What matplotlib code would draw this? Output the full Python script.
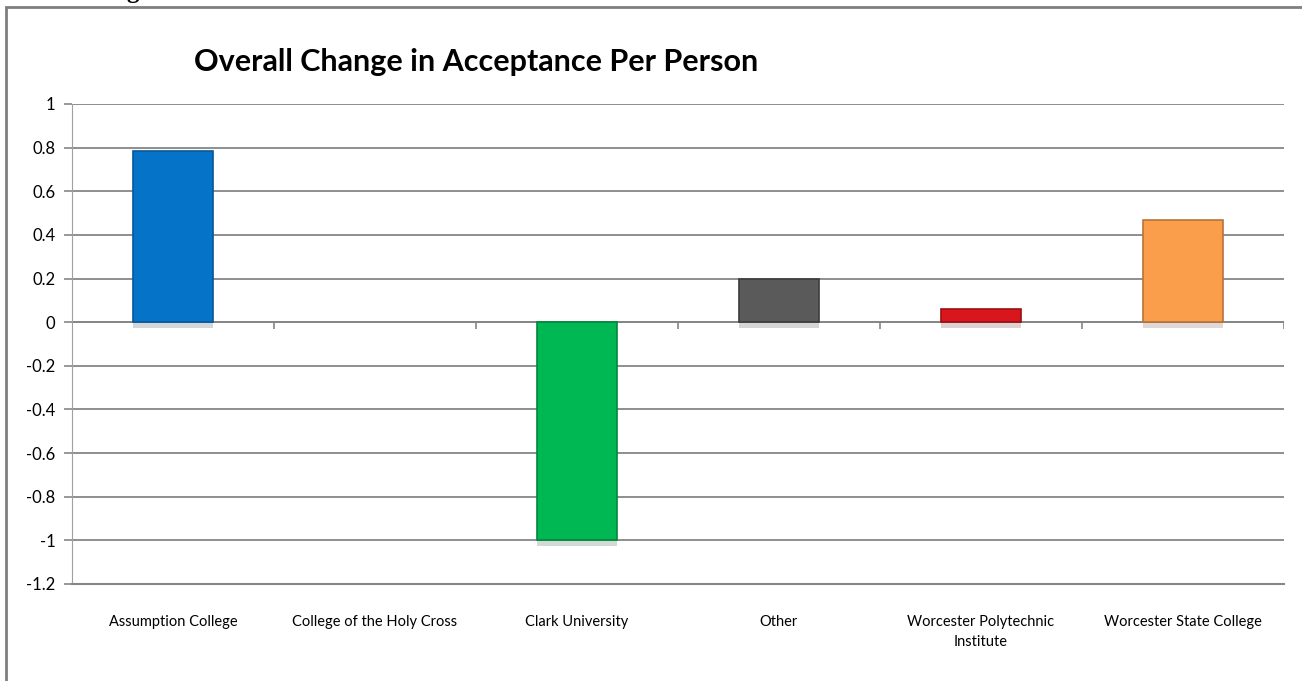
import matplotlib
matplotlib.use("Agg")
import matplotlib.pyplot as plt
from matplotlib.patches import Rectangle
import matplotlib.patheffects as pe
import numpy as np

categories = ["Assumption College", "College of the Holy Cross", "Clark University",
              "Other", "Worcester Polytechnic\nInstitute", "Worcester State College"]
values = [0.786, 0.0, -1.0, 0.2, 0.06, 0.47]
colors = ["#0574C8", "#00B050", "#00B853", "#5A5A5A", "#D8161C", "#FB9E4C"]
edges = ["#05589A", "#00B050", "#00873C", "#3C3C3C", "#9C0E12", "#B8733A"]
yticks = [-1.2, -1, -0.8, -0.6, -0.4, -0.2, 0, 0.2, 0.4, 0.6, 0.8, 1]
title = "Overall Change in Acceptance Per Person"

plt.rcParams['font.family'] = ['Lato', 'DejaVu Sans']

fig = plt.figure(figsize=(13.02, 6.81), dpi=100)
ax = fig.add_axes([72/1302, 1 - 584/681, (1284 - 72)/1302, (584 - 104)/681])

x = np.arange(len(categories))
for i in range(len(categories)):
    if values[i] == 0:
        continue
    b = ax.bar(x[i], values[i], width=0.4, color=colors[i], edgecolor=edges[i],
               linewidth=1.2, zorder=3)
    b[0].set_path_effects([pe.SimplePatchShadow(offset=(0, -4), alpha=0.18),
                           pe.Normal()])

ax.set_xlim(-0.5, len(categories) - 0.5)
ax.set_ylim(-1.2, 1)
ax.set_yticks(yticks)
ax.set_yticklabels(["%g" % v for v in yticks], fontsize=12)
ax.yaxis.grid(True, color="#868686", linewidth=1.3, zorder=0)
ax.set_axisbelow(True)

ax.set_xticks(x)
ax.set_xticklabels(categories, fontsize=10.5, linespacing=1.6, va="top")
ax.tick_params(axis="x", length=0, pad=22)
ax.tick_params(axis="y", length=6, color="#868686", pad=6, width=1.2)

for s in ["top", "right"]:
    ax.spines[s].set_visible(False)
ax.spines["left"].set_color("#A0A0A0")
ax.spines["bottom"].set_color("#868686")
ax.spines["bottom"].set_linewidth(1.5)

# zero axis with category tick marks
ax.axhline(0, color="#868686", linewidth=1.3, zorder=2)
ax.vlines(np.arange(len(categories) + 1) - 0.5, 0, -0.032, color="#868686",
          linewidth=1.2, zorder=2)

fig.text(476/1302, 1 - 62/681, title, fontsize=22, fontweight="bold",
         ha="center", va="center")

# outer chart frame (clipped by page edge)
fig.patches.append(Rectangle((6/1302, -0.1), 1.2, 1 - 7/681 + 0.1,
                             transform=fig.transFigure, fill=False,
                             edgecolor="#7F7F7F", linewidth=2))
fig.text(133/1302, 1 + 8/681, "g", fontsize=18, fontweight="bold",
         family="Liberation Serif", ha="center", va="center")

fig.savefig("out.png", dpi=100)
